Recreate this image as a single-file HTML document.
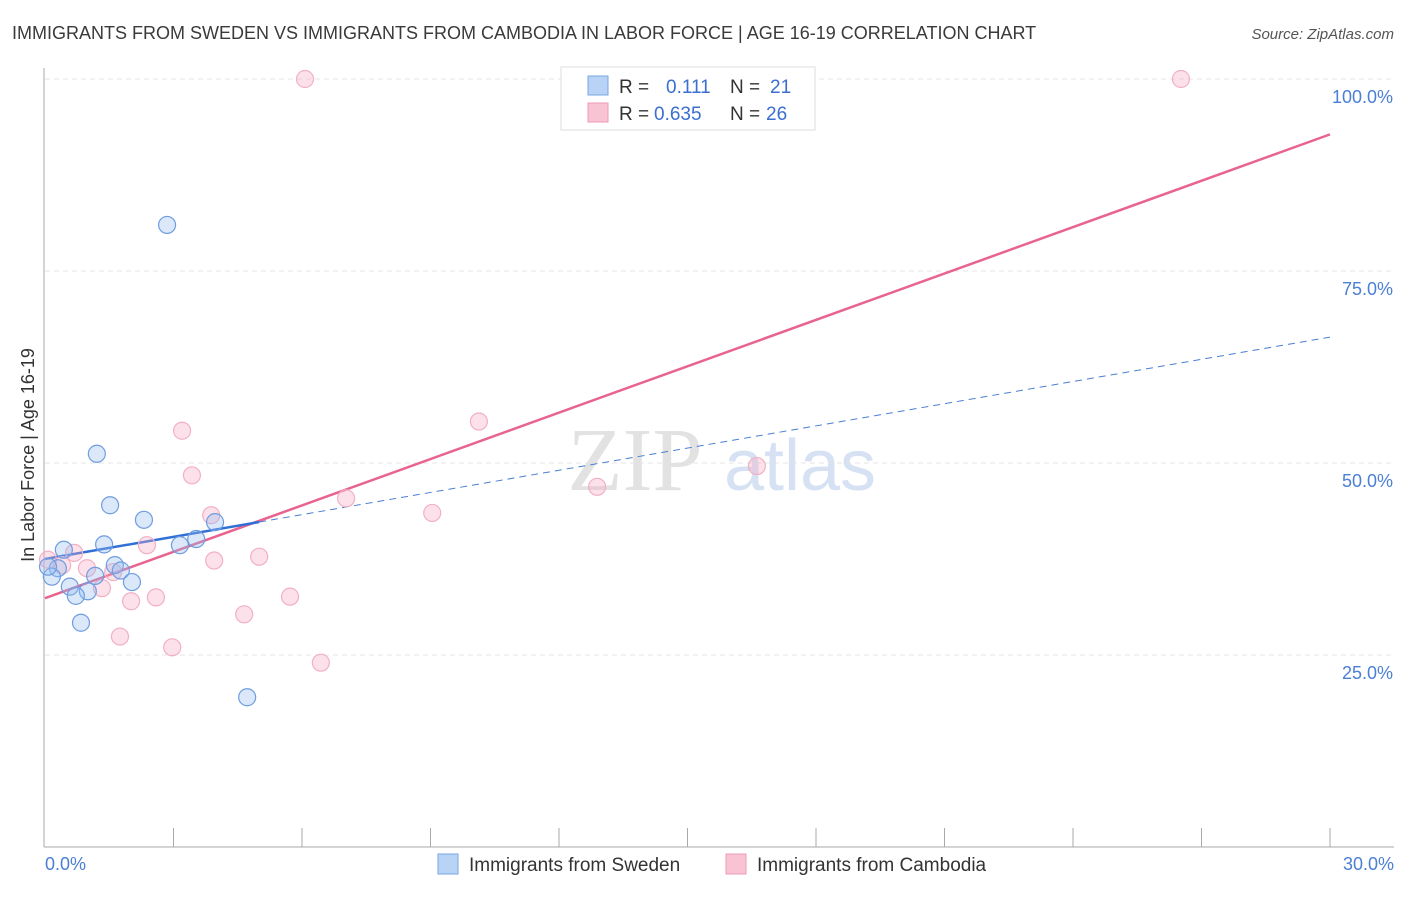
<!DOCTYPE html>
<html><head><meta charset="utf-8"><style>
body{margin:0;background:#fff;font-family:"Liberation Sans",sans-serif;}
</style></head><body>
<svg id="c" width="1406" height="892" xmlns="http://www.w3.org/2000/svg" style="font-family:'Liberation Sans',sans-serif">
<text x="12" y="39" font-size="18" fill="#3a3a3a">IMMIGRANTS FROM SWEDEN VS IMMIGRANTS FROM CAMBODIA IN LABOR FORCE | AGE 16-19 CORRELATION CHART</text>
<text x="1394" y="39" font-size="15" fill="#555" text-anchor="end" font-style="italic">Source: ZipAtlas.com</text>
<text x="635" y="490" font-size="90" fill="#e2e2e2" text-anchor="middle" font-family="Liberation Serif">ZIP</text>
<text x="800" y="490" font-size="72" fill="#d6e2f3" text-anchor="middle">atlas</text>
<text transform="translate(34,455) rotate(-90)" font-size="18" fill="#333" text-anchor="middle">In Labor Force | Age 16-19</text>
<g id="grid"></g><g id="axes"></g><g id="lines"></g><g id="pts"></g>
<g>
<rect x="561" y="67" width="254" height="63" fill="#fff" stroke="#ddd"/>
<rect x="588" y="76" width="20" height="19" fill="#b8d3f5" stroke="#7aa7e0"/>
<rect x="588" y="103" width="20" height="19" fill="#f8c4d4" stroke="#ee9ab3"/>
<text x="619" y="93" font-size="19" fill="#333">R =</text>
<text x="666" y="93" font-size="19" fill="#3a6fd0">0.111</text>
<text x="730" y="93" font-size="19" fill="#333">N =</text>
<text x="770" y="93" font-size="19" fill="#3a6fd0">21</text>
<text x="619" y="120" font-size="19" fill="#333">R =</text>
<text x="654" y="120" font-size="19" fill="#3a6fd0">0.635</text>
<text x="730" y="120" font-size="19" fill="#333">N =</text>
<text x="766" y="120" font-size="19" fill="#3a6fd0">26</text>
</g>
<g>
<rect x="438" y="854" width="20" height="20" fill="#b8d3f5" stroke="#7aa7e0"/>
<text x="469" y="871" font-size="19" fill="#333">Immigrants from Sweden</text>
<rect x="726" y="854" width="20" height="20" fill="#f8c4d4" stroke="#ee9ab3"/>
<text x="757" y="871" font-size="19" fill="#333">Immigrants from Cambodia</text>
</g>
</svg>
<script>
const swedenX=[2.85,1.21,1.52,2.31,3.97,3.53,3.15,1.38,0.44,1.63,1.77,1.17,2.03,0.30,0.16,0.58,1.00,0.72,0.84,4.72,0.07];
const swedenY=[81.0,51.2,44.5,42.6,42.3,40.1,39.3,39.4,38.7,36.7,36.0,35.3,34.5,36.3,35.2,33.9,33.3,32.7,29.2,19.5,36.5];
const cambodiaX=[6.07,26.52,3.20,10.13,3.43,16.62,12.89,7.03,9.04,3.88,2.38,0.68,5.00,3.95,0.07,0.40,1.59,0.98,1.33,5.72,2.59,2.01,4.65,1.75,2.97,6.44];
const cambodiaY=[100,100,54.2,55.4,48.4,49.6,46.9,45.4,43.5,43.2,39.3,38.3,37.8,37.3,37.4,36.7,35.8,36.3,33.7,32.6,32.5,32.0,30.3,27.4,26.0,24.0];
const yTicks=[25,50,75,100];
const yTickLabels=["25.0%","50.0%","75.0%","100.0%"];
const swedenTrend=[37.5,0.963];
const cambodiaTrend=[32.4,2.013];
const NS="http://www.w3.org/2000/svg";
const X=v=>45+v/30*1285, Y=v=>847-v/100*768;
function mk(t,a,p){const e=document.createElementNS(NS,t);for(const k in a)e.setAttribute(k,a[k]);p.appendChild(e);return e;}
const grid=document.getElementById('grid'),axes=document.getElementById('axes'),lines=document.getElementById('lines'),pts=document.getElementById('pts');
yTicks.forEach((t,i)=>{
 const l=mk('line',{x1:45,x2:1394,y1:Y(t),y2:Y(t),stroke:'#e4e4e4','stroke-dasharray':'5,4'},grid);
 
 
 const tx=mk('text',{x:1393,y:Y(t)+24,'font-size':18,fill:'#4a7fd4','text-anchor':'end'},axes);tx.textContent=yTickLabels[i];
 
 
});
let a=mk('line',{x1:44,x2:44,y1:68,y2:847,stroke:'#aaa'},axes);


a=mk('line',{x1:44,x2:1394,y1:847,y2:847,stroke:'#aaa'},axes);


for(let i=1;i<=10;i++){const x=X(i*3);const t=mk('line',{x1:x,x2:x,y1:828,y2:847,stroke:'#aaa'},axes);
 
 }
let tl=mk('text',{x:45,y:870,'font-size':18,fill:'#4a7fd4'},axes);tl.textContent='0.0%';


tl=mk('text',{x:1394,y:870,'font-size':18,fill:'#4a7fd4','text-anchor':'end'},axes);tl.textContent='30.0%';


const f=(tr,x)=>tr[0]+tr[1]*x;
let ln=mk('line',{x1:X(0),y1:Y(f(cambodiaTrend,0)),x2:X(30),y2:Y(f(cambodiaTrend,30)),stroke:'#e8648f','stroke-width':2.5},lines);


ln=mk('line',{x1:X(5),y1:Y(f(swedenTrend,5)),x2:X(30),y2:Y(f(swedenTrend,30)),stroke:'#4a7fd4','stroke-width':1,'stroke-dasharray':'7,5'},lines);


ln=mk('line',{x1:X(0),y1:Y(f(swedenTrend,0)),x2:X(5),y2:Y(f(swedenTrend,5)),stroke:'#2f6fd6','stroke-width':2.5},lines);


cambodiaX.forEach((x,i)=>{const c=mk('circle',{cx:X(x),cy:Y(cambodiaY[i]),r:8.5,fill:'rgba(246,170,195,0.35)',stroke:'#f2b0c4','stroke-width':1.2},pts);
 
 });
swedenX.forEach((x,i)=>{const c=mk('circle',{cx:X(x),cy:Y(swedenY[i]),r:8.5,fill:'rgba(150,190,240,0.35)',stroke:'#6f9de0','stroke-width':1.2},pts);
 
 });
</script>
</body></html>
